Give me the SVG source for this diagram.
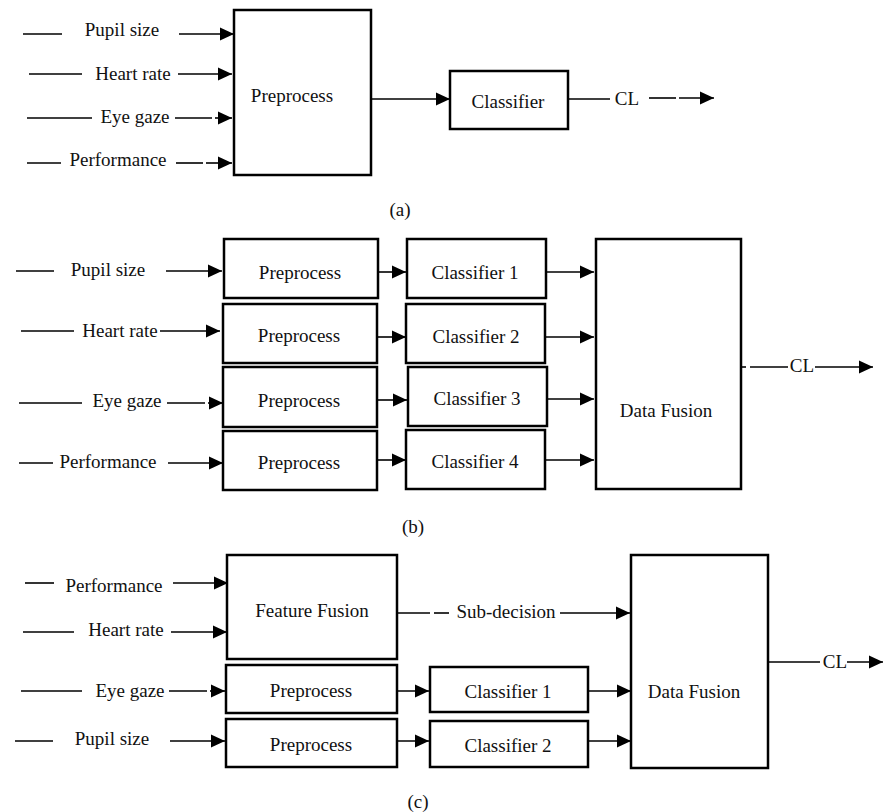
<svg xmlns="http://www.w3.org/2000/svg" width="883" height="812" viewBox="0 0 883 812">
<defs>
<marker id="ah" markerUnits="userSpaceOnUse" markerWidth="14" markerHeight="13" refX="14" refY="6.5" orient="auto" overflow="visible">
<path d="M0,0 L14,6.5 L0,13 z" fill="#000"/>
</marker>
<style>
.box{fill:#fff;stroke:#000;stroke-width:2.5}
.ln{stroke:#000;stroke-width:1.6;fill:none}
.ar{stroke:#000;stroke-width:1.6;fill:none;marker-end:url(#ah)}
text{font-family:"Liberation Serif","Times New Roman",serif;font-size:19px;fill:#111}
.m{text-anchor:middle}
</style>
</defs>
<rect width="883" height="812" fill="#fff"/>

<!-- Panel (a) -->
<g id="a-preprocess"><rect class="box" x="234" y="10" width="137" height="165"/><text class="m" x="292" y="102">Preprocess</text></g>
<g id="a-classifier"><rect class="box" x="450" y="71" width="118" height="58"/><text class="m" x="508" y="108">Classifier</text></g>
<g id="a-labels">
<text class="m" x="122" y="36">Pupil size</text>
<text class="m" x="133" y="80">Heart rate</text>
<text class="m" x="135" y="123">Eye gaze</text>
<text class="m" x="118" y="166">Performance</text>
<text class="m" x="627" y="105">CL</text>
<text class="m" x="400" y="216">(a)</text>
</g>
<g id="a-connectors">
<line class="ln" x1="23" y1="34" x2="62" y2="34"/><line class="ar" x1="179" y1="34" x2="234" y2="34"/>
<line class="ln" x1="29" y1="74" x2="82" y2="74"/><line class="ar" x1="178" y1="74" x2="232" y2="74"/>
<line class="ln" x1="27" y1="118" x2="92" y2="118"/><line class="ln" x1="175" y1="118" x2="212" y2="118"/><line class="ar" x1="215" y1="118" x2="232" y2="118"/>
<line class="ln" x1="27" y1="163" x2="61" y2="163"/><line class="ln" x1="176" y1="163" x2="203" y2="163"/><line class="ar" x1="206" y1="163" x2="232" y2="163"/>
<line class="ar" x1="371" y1="99" x2="450" y2="99"/>
<line class="ln" x1="568" y1="99" x2="610" y2="99"/>
<line class="ln" x1="649" y1="98" x2="676" y2="98"/><line class="ar" x1="679" y1="98" x2="714" y2="98"/>
</g>

<!-- Panel (b) -->
<g id="b-pre1"><rect class="box" x="224" y="239" width="154" height="59"/><text class="m" x="300" y="279">Preprocess</text></g>
<g id="b-pre2"><rect class="box" x="223" y="304" width="154" height="59"/><text class="m" x="299" y="342">Preprocess</text></g>
<g id="b-pre3"><rect class="box" x="223" y="367" width="154" height="60"/><text class="m" x="299" y="407">Preprocess</text></g>
<g id="b-pre4"><rect class="box" x="223" y="431" width="154" height="59"/><text class="m" x="299" y="469">Preprocess</text></g>
<g id="b-cls1"><rect class="box" x="407" y="239" width="139" height="59"/><text class="m" x="475" y="279">Classifier 1</text></g>
<g id="b-cls2"><rect class="box" x="406" y="304" width="139" height="59"/><text class="m" x="476" y="343">Classifier 2</text></g>
<g id="b-cls3"><rect class="box" x="408" y="367" width="139" height="59"/><text class="m" x="477" y="405">Classifier 3</text></g>
<g id="b-cls4"><rect class="box" x="406" y="430" width="139" height="59"/><text class="m" x="475" y="468">Classifier 4</text></g>
<g id="b-fusion"><rect class="box" x="596" y="239" width="145" height="250"/><text class="m" x="666" y="417">Data Fusion</text></g>
<g id="b-labels">
<text class="m" x="108" y="276">Pupil size</text>
<text class="m" x="120" y="337">Heart rate</text>
<text class="m" x="127" y="407">Eye gaze</text>
<text class="m" x="108" y="468">Performance</text>
<text class="m" x="802" y="372">CL</text>
<text class="m" x="413" y="533">(b)</text>
</g>
<g id="b-connectors">
<line class="ln" x1="16" y1="271" x2="54" y2="271"/><line class="ar" x1="166" y1="271" x2="222" y2="271"/>
<line class="ln" x1="21" y1="331" x2="74" y2="331"/><line class="ar" x1="160" y1="331" x2="220" y2="331"/>
<line class="ln" x1="19" y1="403" x2="82" y2="403"/><line class="ln" x1="167" y1="403" x2="205" y2="403"/><line class="ar" x1="208" y1="403" x2="223" y2="403"/>
<line class="ln" x1="19" y1="463" x2="53" y2="463"/><line class="ar" x1="168" y1="463" x2="223" y2="463"/>
<line class="ar" x1="377" y1="272" x2="406" y2="272"/>
<line class="ar" x1="377" y1="337" x2="406" y2="337"/>
<line class="ar" x1="378" y1="400" x2="407" y2="400"/>
<line class="ar" x1="378" y1="460" x2="406" y2="460"/>
<line class="ar" x1="546" y1="272" x2="594" y2="272"/>
<line class="ar" x1="545" y1="337" x2="594" y2="337"/>
<line class="ar" x1="547" y1="399" x2="594" y2="399"/>
<line class="ar" x1="545" y1="460" x2="594" y2="460"/>
<line class="ln" x1="741" y1="367" x2="746" y2="367"/><line class="ln" x1="750" y1="367" x2="788" y2="367"/>
<line class="ar" x1="815" y1="367" x2="873" y2="367"/>
</g>

<!-- Panel (c) -->
<g id="c-feature"><rect class="box" x="227" y="555" width="170" height="104"/><text class="m" x="312" y="617">Feature Fusion</text></g>
<g id="c-pre1"><rect class="box" x="226" y="665" width="171" height="48"/><text class="m" x="311" y="697">Preprocess</text></g>
<g id="c-pre2"><rect class="box" x="226" y="719" width="171" height="48"/><text class="m" x="311" y="751">Preprocess</text></g>
<g id="c-cls1"><rect class="box" x="430" y="667" width="158" height="45"/><text class="m" x="508" y="698">Classifier 1</text></g>
<g id="c-cls2"><rect class="box" x="430" y="721" width="158" height="46"/><text class="m" x="508" y="752">Classifier 2</text></g>
<g id="c-fusion"><rect class="box" x="631" y="555" width="137" height="213"/><text class="m" x="694" y="698">Data Fusion</text></g>
<g id="c-labels">
<text class="m" x="114" y="592">Performance</text>
<text class="m" x="126" y="636">Heart rate</text>
<text class="m" x="506" y="618">Sub-decision</text>
<text class="m" x="130" y="697">Eye gaze</text>
<text class="m" x="112" y="745">Pupil size</text>
<text class="m" x="835" y="668">CL</text>
<text class="m" x="418" y="808">(c)</text>
</g>
<g id="c-connectors">
<line class="ln" x1="25" y1="583" x2="54" y2="583"/><line class="ar" x1="173" y1="583" x2="228" y2="583"/>
<line class="ln" x1="23" y1="632" x2="74" y2="632"/><line class="ar" x1="171" y1="632" x2="227" y2="632"/>
<line class="ln" x1="397" y1="613" x2="430" y2="613"/><line class="ln" x1="434" y1="613" x2="449" y2="613"/>
<line class="ar" x1="560" y1="613" x2="630" y2="613"/>
<line class="ln" x1="21" y1="691" x2="82" y2="691"/><line class="ln" x1="169" y1="691" x2="207" y2="691"/><line class="ar" x1="210" y1="691" x2="225" y2="691"/>
<line class="ln" x1="15" y1="741" x2="53" y2="741"/><line class="ar" x1="170" y1="741" x2="225" y2="741"/>
<line class="ar" x1="396" y1="691" x2="429" y2="691"/>
<line class="ar" x1="396" y1="741" x2="429" y2="741"/>
<line class="ar" x1="588" y1="691" x2="631" y2="691"/>
<line class="ar" x1="588" y1="741" x2="631" y2="741"/>
<line class="ln" x1="768" y1="662" x2="820" y2="662"/>
<line class="ar" x1="847" y1="662" x2="883" y2="662"/>
</g>
</svg>
